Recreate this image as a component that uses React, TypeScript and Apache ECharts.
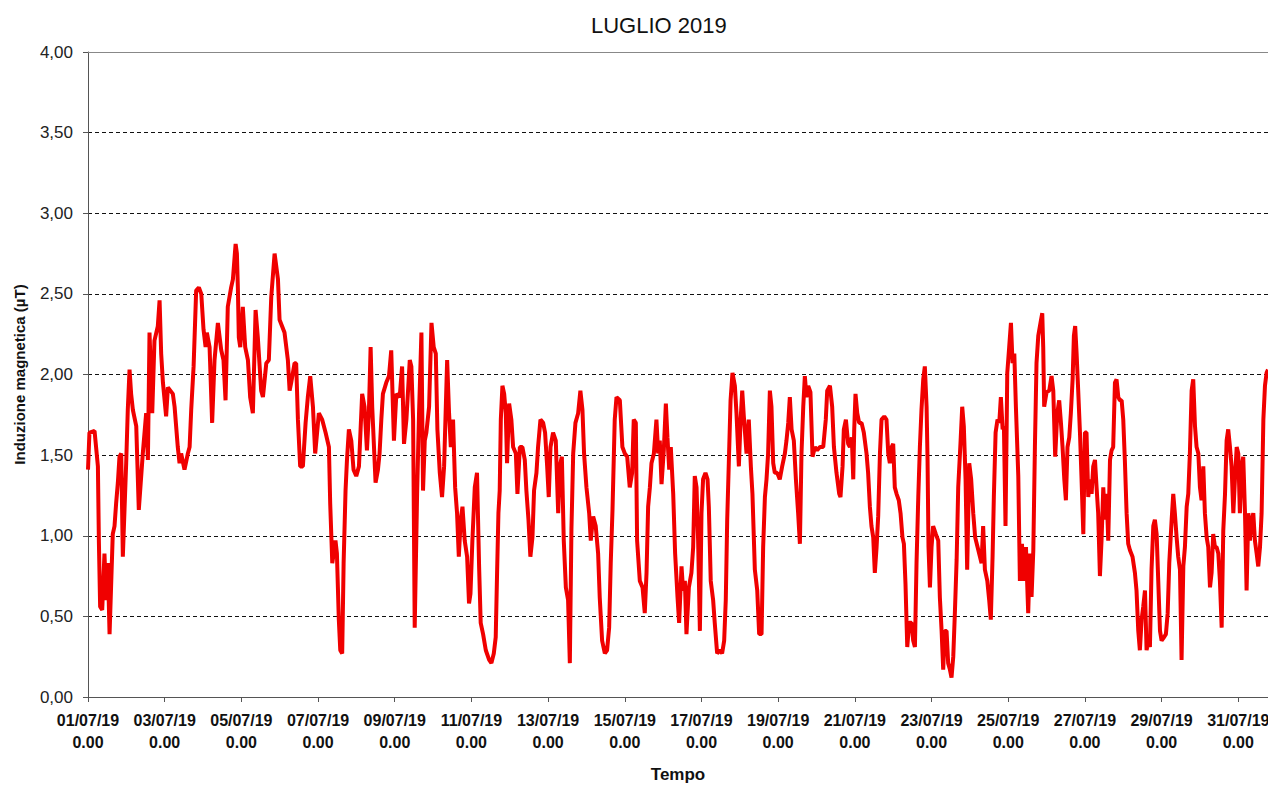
import React, { useEffect, useRef } from "react";
import * as echarts from "echarts";

// Time of each reading, in hours from 01/07/19 0.00
const hours: number[] = [
  0, 0.9, 4.1, 6.2, 6.8, 7.6, 8.9, 10.3, 11.4, 12.4, 13.5, 15.5, 16.6, 17.6, 18.7, 19.7, 20.8, 21.8, 23.9, 24.9,
  26.0, 27.0, 28.1, 30.2, 31.8, 34.3, 36.4, 37.5, 38.5, 40.2, 41.6, 43.7, 44.8, 45.8, 46.9, 48.9, 50.0, 53.1, 54.2, 56.2,
  57.3, 58.3, 60.4, 62.5, 63.6, 64.6, 66.1, 67.7, 69.4, 70.9, 72.3, 73.6, 74.4, 76.1, 77.7, 79.2, 81.3, 83.4, 84.8, 86.1,
  87.5, 89.6, 90.7, 92.4, 93.2, 93.8, 94.4, 95.3, 96.9, 98.4, 100.1, 101.5, 103.2, 104.9, 106.3, 108.4, 109.5, 111.6, 113.2, 114.7,
  116.8, 118.9, 119.9, 123.0, 125.1, 126.2, 127.2, 129.3, 130.3, 131.4, 132.8, 134.5, 136.2, 137.6, 139.1, 140.8, 142.2, 144.5, 146.6, 148.7,
  150.8, 151.6, 152.9, 154.9, 155.8, 157.0, 157.9, 159.1, 160.0, 161.2, 162.1, 163.3, 164.8, 166.2, 167.9, 169.6, 171.6, 173.1, 174.6, 175.8,
  176.9, 177.9, 180.0, 181.5, 182.5, 183.6, 184.6, 186.7, 188.4, 189.8, 191.5,
  193.0, 195.1, 196.6, 197.8, 199.3, 201.4, 202.4, 203.5, 204.5, 206.0, 207.2, 208.7, 209.7, 210.8, 211.8, 213.5, 215.0, 216.4, 217.7, 218.7,
  220.2, 221.6, 222.9, 224.8, 226.0, 227.1, 228.5, 229.8, 231.0, 232.1, 233.3, 234.4, 235.8, 237.3, 238.5, 239.4, 240.6, 242.1, 243.5, 244.8,
  245.8, 247.3, 249.0, 251.1, 252.5, 254.0, 255.2, 256.1, 256.9, 257.7, 258.4, 259.4, 260.5, 261.5, 262.3, 263.6, 265.0, 266.1, 267.8, 268.8,
  270.3, 271.9, 273.4, 274.4, 275.7, 276.9, 278.2, 279.2, 280.7, 281.7, 283.2, 284.9, 286.1, 287.4, 288.4, 289.5, 291.1, 292.8, 294.3, 295.3,
  296.6, 297.8, 299.1, 300.5, 301.6, 302.6, 303.7, 305.1, 306.8, 308.2, 309.5, 310.5, 312.0, 313.7, 314.7, 316.2, 317.8, 319.3, 320.3, 321.8,
  323.5, 324.9, 326.2, 327.2, 328.3, 329.7, 330.8, 332.9,
  334.5, 336.0, 337.5, 339.1, 340.6, 341.6, 342.9, 343.7, 345.4, 347.1, 348.5, 349.6, 350.6, 351.7, 352.7, 354.2, 355.8, 356.9, 357.9, 359.0,
  360.4, 361.7, 362.7, 363.8, 364.8, 366.3, 367.5, 369.0, 370.0, 371.5, 372.5, 373.6, 374.6, 376.1, 377.7, 378.8, 379.8, 380.9, 381.9, 383.0,
  384.0, 385.0, 386.5, 387.8, 388.6, 389.8, 391.3, 392.3, 393.8, 395.5, 396.9, 398.2, 399.2, 400.1, 401.1, 402.2, 403.4, 404.9, 405.9, 407.4,
  408.4, 409.5, 410.5, 412.2, 413.6, 414.9, 415.9, 417.4, 418.9, 420.1, 421.6, 422.6, 423.7, 424.7, 425.7, 426.8, 427.8, 428.9, 429.9, 431.4,
  433.0, 434.5, 436.2, 437.2, 438.3, 439.3, 440.4, 441.8, 443.1, 444.5, 445.6, 446.6, 447.7, 448.7, 449.7, 450.8, 452.2, 453.5, 455.0, 456.4,
  458.1, 460.2, 461.8, 462.7, 464.4, 465.8, 466.9, 468.5, 470.2,
  471.0, 472.3, 473.1, 474.4, 475.8, 476.9, 478.1, 479.0, 479.6, 480.4, 481.5, 482.7, 484.2, 485.6, 487.3, 488.3, 489.4, 490.4, 491.5, 492.5,
  493.6, 494.6, 495.7, 496.7, 498.4, 499.8, 500.9, 501.9, 503.0, 504.0, 505.0, 506.1, 507.5, 508.6, 509.8, 510.7, 511.7, 512.8, 514.0, 515.5,
  516.5, 517.6, 518.6, 519.7, 520.7, 521.7, 522.8, 523.8, 524.9, 525.5, 526.1, 527.0, 528.0, 529.0, 530.7, 532.2, 533.2, 534.3, 535.3, 536.3,
  537.4, 538.4, 539.5, 540.5, 541.6, 542.6, 543.7, 544.7, 546.2, 547.2, 548.2, 549.3, 550.3, 551.6, 552.8, 554.1, 555.3, 556.8, 558.3, 559.3,
  560.3, 561.4, 562.9, 564.1, 565.1, 566.2, 567.0, 568.1, 569.3, 570.4, 571.4, 572.5, 573.3, 574.3, 575.4, 576.6, 577.7, 578.7, 579.8, 580.8,
  582.3, 583.3, 584.6, 585.8, 587.1, 588.5, 589.6, 590.6, 591.7, 592.7, 593.7, 594.8, 596.2, 597.3, 597.9, 598.5, 600.0, 601.7, 603.1, 604.2,
  605.4, 606.7, 607.9,
  609.0, 610.0, 611.1, 612.1, 613.1, 614.2, 615.2, 616.3, 617.1, 617.9, 618.8, 619.8, 620.9, 621.9, 623.0, 624.0, 625.0, 626.1, 627.1, 628.2,
  629.2, 630.3, 631.3, 632.3, 633.4, 634.4, 635.5, 636.5, 637.6, 638.6, 639.7, 640.7, 641.7, 642.8, 643.8, 644.9, 645.9, 647.0, 648.0, 649.0,
  650.1, 651.1, 652.2, 653.8, 655.3, 656.3, 657.4, 658.4, 659.5, 660.5, 661.6, 662.6, 663.7, 664.7, 665.7, 666.8, 667.8, 668.9, 669.9, 671.0,
  672.0, 673.5, 674.7, 675.8, 676.8, 678.3, 679.3, 680.3, 681.4, 682.4, 683.5, 684.5, 685.6, 686.6, 687.7, 688.7, 689.7, 690.8, 691.8, 692.9,
  693.9, 695.0, 696.0, 697.0, 698.1, 699.1, 700.2, 701.2, 702.3, 703.3, 704.3, 705.4, 706.4, 707.5, 708.5, 709.6, 710.6, 711.7, 712.7, 713.7,
  714.8, 715.8, 716.9, 717.9, 719.0, 720.0, 721.0, 722.1, 723.1, 724.2, 725.2, 726.3, 727.3, 728.4, 729.4, 730.4, 731.5, 732.5, 733.6, 734.6,
  735.7, 736.7, 737.7, 738.6,
];

// Magnetic induction (µT) at each reading
const induction: number[] = [
  1.41, 1.64, 1.65, 1.43, 0.97, 0.56, 0.54, 0.89, 0.60, 0.83, 0.39, 1.01, 1.06, 1.20, 1.33, 1.49, 1.51, 0.87, 1.45, 1.78,
  2.03, 1.88, 1.78, 1.68, 1.16, 1.51, 1.76, 1.47, 2.26, 1.76, 2.21, 2.30, 2.46, 2.13, 1.95, 1.74, 1.92, 1.88, 1.80, 1.55,
  1.45, 1.51, 1.41, 1.51, 1.55, 1.78, 2.05, 2.52, 2.54, 2.50, 2.28, 2.17, 2.26, 2.17, 1.70, 2.09, 2.32, 2.15, 2.09, 1.84,
  2.42, 2.54, 2.59, 2.81, 2.75, 2.54, 2.23, 2.17, 2.42, 2.17, 2.09, 1.86, 1.76, 2.40, 2.23, 1.90, 1.86, 2.07, 2.09, 2.48,
  2.75, 2.59, 2.34, 2.26, 2.09, 1.90, 1.95, 2.07, 2.07, 1.72, 1.43, 1.43, 1.70, 1.86, 1.99, 1.80, 1.51, 1.76, 1.72, 1.64,
  1.55, 1.20, 0.83, 0.97, 0.89, 0.48, 0.29, 0.27, 0.83, 1.28, 1.47, 1.66, 1.59, 1.41, 1.37, 1.43, 1.88, 1.80, 1.53, 1.76,
  2.17, 1.80, 1.33, 1.41, 1.51, 1.72, 1.88, 1.95, 1.99, 2.15, 1.59,
  1.88, 1.86, 2.05, 1.57, 1.72, 2.09, 2.05, 1.72, 0.43, 1.26, 1.76, 2.26, 1.28, 1.59, 1.64, 1.80, 2.32, 2.17, 2.13, 1.66,
  1.39, 1.24, 1.43, 2.09, 1.76, 1.55, 1.72, 1.30, 1.14, 0.87, 1.10, 1.18, 0.97, 0.87, 0.58, 0.64, 0.97, 1.30, 1.39, 0.81,
  0.46, 0.39, 0.29, 0.23, 0.21, 0.27, 0.37, 0.79, 1.14, 1.28, 1.72, 1.93, 1.88, 1.76, 1.45, 1.82, 1.72, 1.55, 1.51, 1.26,
  1.55, 1.55, 1.47, 1.28, 1.10, 0.87, 0.99, 1.28, 1.39, 1.55, 1.72, 1.70, 1.64, 1.43, 1.24, 1.55, 1.64, 1.59, 1.14, 1.43,
  1.49, 0.97, 0.68, 0.60, 0.21, 1.04, 1.51, 1.70, 1.76, 1.90, 1.78, 1.51, 1.30, 1.14, 0.97, 1.12, 1.06, 0.89, 0.62, 0.35,
  0.27, 0.29, 0.43, 0.83, 1.16, 1.72, 1.86, 1.84,
  1.55, 1.51, 1.49, 1.30, 1.39, 1.72, 1.70, 0.97, 0.72, 0.68, 0.52, 0.77, 1.18, 1.30, 1.45, 1.51, 1.72, 1.51, 1.59, 1.32,
  1.53, 1.82, 1.61, 1.41, 1.55, 1.26, 0.89, 0.62, 0.46, 0.81, 0.66, 0.72, 0.39, 0.68, 0.77, 0.93, 1.37, 1.30, 0.97, 0.41,
  1.14, 1.35, 1.39, 1.35, 1.18, 0.72, 0.60, 0.46, 0.27, 0.29, 0.27, 0.35, 0.60, 1.10, 1.45, 1.84, 2.01, 1.93, 1.76, 1.43,
  1.70, 1.90, 1.74, 1.51, 1.72, 1.43, 1.26, 0.79, 0.66, 0.39, 0.39, 0.93, 1.24, 1.35, 1.51, 1.90, 1.80, 1.45, 1.39, 1.39,
  1.35, 1.43, 1.51, 1.59, 1.70, 1.86, 1.66, 1.59, 1.35, 1.14, 0.95, 1.51, 1.80, 1.99, 1.86, 1.93, 1.89, 1.49, 1.55, 1.53,
  1.55, 1.55, 1.72, 1.90, 1.93, 1.80, 1.55, 1.39, 1.26,
  1.24, 1.43, 1.66, 1.72, 1.57, 1.55, 1.61, 1.35, 1.66, 1.88, 1.76, 1.70, 1.70, 1.64, 1.51, 1.39, 1.18, 1.06, 0.99, 0.77,
  0.93, 1.12, 1.51, 1.72, 1.74, 1.72, 1.51, 1.45, 1.55, 1.57, 1.30, 1.26, 1.22, 1.14, 0.99, 0.95, 0.70, 0.31, 0.46, 0.46,
  0.35, 0.31, 0.83, 1.24, 1.55, 1.78, 1.97, 2.05, 1.80, 1.47, 0.93, 0.68, 0.93, 1.06, 1.01, 0.97, 0.62, 0.41, 0.17, 0.41,
  0.41, 0.21, 0.17, 0.12, 0.25, 0.52, 0.85, 1.30, 1.59, 1.80, 1.68, 1.35, 0.79, 1.45, 1.35, 1.14, 0.99, 0.93, 0.87, 0.83,
  1.06, 0.79, 0.72, 0.60, 0.48, 0.87, 1.24, 1.64, 1.72, 1.70, 1.86, 1.66, 1.68, 1.06, 2.01, 2.17, 2.32, 2.07, 2.13, 1.80,
  1.37, 0.72, 0.95, 0.72, 0.93, 0.52, 0.89, 0.62, 0.91, 1.55, 2.07, 2.24, 2.32, 2.38, 2.17, 1.80, 1.89, 1.90, 1.99, 1.90,
  1.49, 1.76, 1.84,
  1.70, 1.55, 1.35, 1.22, 1.55, 1.61, 1.76, 1.97, 2.24, 2.30, 2.13, 1.90, 1.64, 1.35, 1.01, 1.64, 1.64, 1.24, 1.35, 1.26,
  1.43, 1.47, 1.30, 1.14, 0.75, 0.97, 1.30, 1.10, 1.26, 0.97, 1.47, 1.53, 1.55, 1.95, 1.97, 1.86, 1.84, 1.84, 1.72, 1.47,
  1.14, 0.95, 0.91, 0.87, 0.77, 0.66, 0.41, 0.29, 0.48, 0.56, 0.66, 0.29, 0.35, 0.31, 0.79, 1.06, 1.10, 1.01, 0.72, 0.41,
  0.35, 0.37, 0.39, 0.52, 0.83, 1.10, 1.26, 1.14, 0.99, 0.87, 0.79, 0.23, 0.81, 0.93, 1.18, 1.26, 1.51, 1.90, 1.97, 1.68,
  1.55, 1.51, 1.30, 1.22, 1.43, 1.14, 0.99, 0.93, 0.68, 0.77, 1.01, 0.93, 0.93, 0.89, 0.72, 0.43, 1.03, 1.26, 1.59, 1.66,
  1.55, 1.43, 1.14, 1.35, 1.55, 1.51, 1.14, 1.43, 1.49, 1.14, 0.66, 1.14, 0.97, 1.10, 1.14, 0.97, 0.89, 0.81, 0.93, 1.14,
  1.72, 1.93, 2.01, 2.03,
];

const yTicks: number[] = [0, 0.5, 1, 1.5, 2, 2.5, 3, 3.5, 4];
const xMaxHours = 738.6;
const monthLabel = "07/19";
const titleText = "LUGLIO 2019";
const yName = "Induzione magnetica (µT)";
const xName = "Tempo";

export default function App() {
  const ref = useRef<HTMLDivElement>(null);

  useEffect(() => {
    if (!ref.current) return;
    const chart = echarts.init(ref.current, undefined, { renderer: "svg" });
    const data = hours.map((h, i) => [h, induction[i]]);
    const font = "'Liberation Sans', Arial, sans-serif";

    chart.setOption({
      animation: false,
      backgroundColor: "#ffffff",
      title: {
        text: titleText,
        left: 586,
        top: 9,
        textStyle: { fontFamily: font, fontSize: 22, fontWeight: "normal", color: "#111" },
      },
      grid: {
        left: 88,
        right: 0,
        top: 52,
        bottom: 88,
        containLabel: false,
        outerBoundsMode: "none",
      },
      xAxis: {
        type: "value",
        min: 0,
        max: xMaxHours,
        interval: 48,
        name: xName,
        nameLocation: "middle",
        nameGap: 69,
        nameTextStyle: { fontFamily: font, fontSize: 17, fontWeight: "bold", color: "#111" },
        axisLine: { show: true, onZero: false, lineStyle: { color: "#555", width: 1 } },
        axisTick: { show: true, length: 5, lineStyle: { color: "#555" } },
        splitLine: { show: false },
        axisLabel: {
          showMaxLabel: false,
          margin: 12,
          fontFamily: font,
          fontSize: 16,
          fontWeight: "bold",
          lineHeight: 22,
          color: "#111",
          formatter: (v: number) => {
            if (Math.abs(v % 48) > 1e-6) return "";
            const d = Math.round(v / 24) + 1;
            return `${String(d).padStart(2, "0")}/${monthLabel}\n0.00`;
          },
        },
      },
      yAxis: {
        type: "value",
        min: yTicks[0],
        max: yTicks[yTicks.length - 1],
        interval: 0.5,
        name: yName,
        nameLocation: "middle",
        nameGap: 61,
        nameTextStyle: { fontFamily: font, fontSize: 15, fontWeight: "bold", color: "#111" },
        axisLine: { show: true, lineStyle: { color: "#555", width: 1 } },
        axisTick: { show: true, length: 5, lineStyle: { color: "#555" } },
        splitLine: { show: true, lineStyle: { color: "#111", type: [4, 3], width: 1 } },
        axisLabel: {
          margin: 15,
          fontFamily: font,
          fontSize: 17,
          color: "#222",
          formatter: (v: number) => v.toFixed(2).replace(".", ","),
        },
      },
      series: [
        {
          type: "line",
          data,
          showSymbol: false,
          symbol: "none",
          lineStyle: { color: "#f00000", width: 4 },
          itemStyle: { color: "#f00000" },
          markLine: {
            silent: true,
            symbol: "none",
            label: { show: false },
            lineStyle: { color: "#888", type: "solid", width: 1 },
            data: [{ yAxis: yTicks[yTicks.length - 1] }],
          },
        },
      ],
    });

    return () => chart.dispose();
  }, []);

  return (
    <div
      ref={ref}
      style={{ position: "fixed", left: 0, top: 0, width: 1268, height: 785 }}
    />
  );
}
